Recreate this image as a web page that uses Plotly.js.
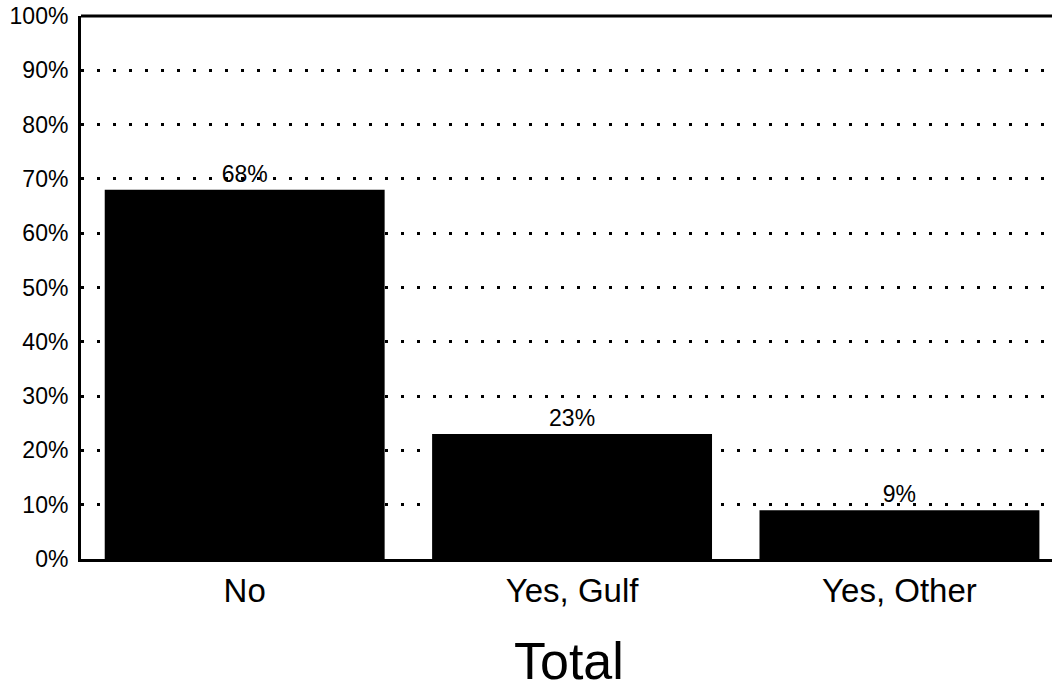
<!DOCTYPE html>
<html>
<head>
<meta charset="utf-8">
<script src="https://cdn.plot.ly/plotly-3.0.1.min.js"></script>
<style>html,body{margin:0;padding:0;background:#fff;}#chart{width:1052px;height:689px;}</style>
</head>
<body>
<div id="chart"></div>
<script>
const categories = ['No', 'Yes, Gulf', 'Yes, Other'];
const percents = [68, 23, 9];
const yTickValues = [0, 10, 20, 30, 40, 50, 60, 70, 80, 90, 100];
const yTickLabels = ['0%', '10%', '20%', '30%', '40%', '50%', '60%', '70%', '80%', '90%', '100%'];
const chartTitle = 'Total';

const FONT = 'Liberation Sans, Arial, Helvetica, sans-serif';

const trace = {
  type: 'bar',
  x: categories,
  y: percents,
  marker: {color: '#000000', line: {width: 0}},
  text: percents.map(v => v + '%'),
  textposition: 'outside',
  textfont: {family: FONT, size: 23, color: '#000'},
  cliponaxis: false,
  hoverinfo: 'skip'
};

const layout = {
  width: 1052,
  height: 689,
  margin: {l: 81, r: 0, t: 16, b: 130},
  paper_bgcolor: '#fff',
  plot_bgcolor: '#fff',
  showlegend: false,
  bargap: 0.145,
  font: {family: FONT, color: '#000'},
  xaxis: {
    type: 'category',
    range: [-0.5, 2.466],
    showline: true,
    linecolor: '#000',
    linewidth: 3,
    showgrid: false,
    zeroline: false,
    ticks: '',
    ticklabelstandoff: 0,
    tickfont: {family: FONT, size: 33, color: '#000'},
    fixedrange: true
  },
  yaxis: {
    range: [0, 100],
    tickvals: yTickValues,
    ticktext: yTickLabels,
    showline: true,
    linecolor: '#000',
    linewidth: 3,
    showgrid: true,
    gridcolor: '#000',
    gridwidth: 3,
    griddash: '3px,13px',
    zeroline: false,
    ticks: '',
    ticklabelstandoff: 5,
    tickfont: {family: FONT, size: 23, color: '#000'},
    fixedrange: true
  },
  shapes: [
    {type: 'line', xref: 'paper', yref: 'paper', x0: 0, x1: 1, y0: 1, y1: 1,
     line: {color: '#000', width: 3}}
  ],
  annotations: [
    {text: chartTitle, xref: 'x', yref: 'paper', x: 1, y: -0.13, xshift: -3,
     yanchor: 'top', xanchor: 'center', showarrow: false,
     font: {family: FONT, size: 52, color: '#000'}}
  ]
};

Plotly.newPlot('chart', [trace], layout, {displayModeBar: false, staticPlot: true});
</script>
</body>
</html>
